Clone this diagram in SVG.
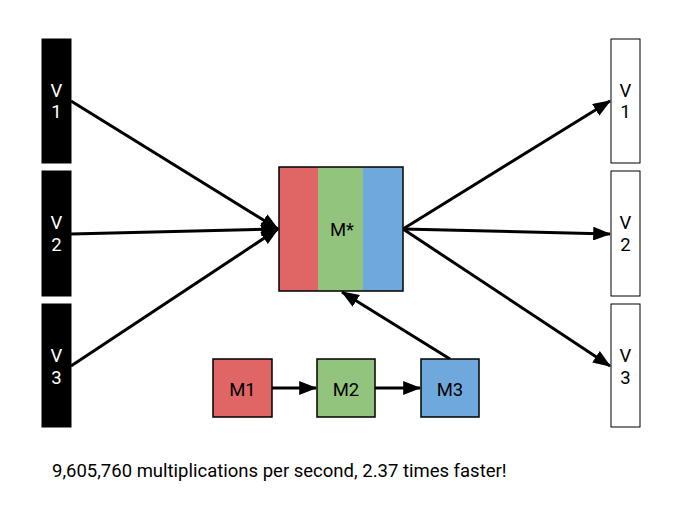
<svg xmlns="http://www.w3.org/2000/svg" width="693" height="518" viewBox="0 0 693 518">
<style>
text{font-family:Roboto,"Liberation Sans",sans-serif;font-size:18.5px;text-anchor:middle}
.lbl{fill:#000}
.wl{fill:#fff}
.vin{fill:#000;stroke:#000;stroke-width:1}
.vout{fill:#fff;stroke:#000;stroke-width:1}
.m{stroke:#000;stroke-width:1.5}
.c{stroke:#000;stroke-width:3;fill:none;marker-end:url(#ah)}
</style>
<defs>
<marker id="ah" markerWidth="6" markerHeight="4.6" refX="5.6" refY="2.3" orient="auto" markerUnits="strokeWidth">
<path d="M0,0 L6,2.3 L0,4.6 Z" fill="#000"/>
</marker>
</defs>
<rect width="693" height="518" fill="#fff"/>
<g id="connectors">
<line class="c" x1="71" y1="101" x2="278" y2="229"/>
<line class="c" x1="71" y1="234" x2="278" y2="229"/>
<line class="c" x1="71" y1="366" x2="278" y2="229"/>
<line class="c" x1="403" y1="229" x2="610" y2="101"/>
<line class="c" x1="403" y1="229" x2="610" y2="234"/>
<line class="c" x1="403" y1="229" x2="610" y2="366"/>
<line class="c" x1="450" y1="359" x2="342" y2="292"/>
<line class="c" x1="272" y1="388" x2="316" y2="388"/>
<line class="c" x1="375" y1="388" x2="420" y2="388"/>
</g>
<g id="vin1"><rect class="vin" x="42" y="39" width="29" height="124"/><text class="wl" x="56.5" y="97">V</text><text class="wl" x="56.5" y="118">1</text></g>
<g id="vin2"><rect class="vin" x="42" y="171" width="29" height="125"/><text class="wl" x="56.5" y="229">V</text><text class="wl" x="56.5" y="251">2</text></g>
<g id="vin3"><rect class="vin" x="42" y="304" width="29" height="123"/><text class="wl" x="56.5" y="362">V</text><text class="wl" x="56.5" y="384">3</text></g>
<g id="mstar">
<rect x="279" y="167" width="39" height="124" fill="#e06666"/>
<rect x="318" y="167" width="45" height="124" fill="#93c47d"/>
<rect x="363" y="167" width="40" height="124" fill="#6fa8dc"/>
<rect x="279" y="167" width="124" height="124" fill="none" stroke="#000" stroke-width="1.5"/>
<text class="lbl" x="342" y="236">M*</text>
</g>
<g id="m1"><rect class="m" x="213" y="359" width="59" height="58" fill="#e06666"/><text class="lbl" x="242.5" y="396">M1</text></g>
<g id="m2"><rect class="m" x="317" y="359" width="58" height="58" fill="#93c47d"/><text class="lbl" x="346" y="396">M2</text></g>
<g id="m3"><rect class="m" x="421" y="359" width="58" height="58" fill="#6fa8dc"/><text class="lbl" x="450" y="396">M3</text></g>
<g id="vout1"><rect class="vout" x="611" y="39" width="29" height="124"/><text class="lbl" x="625.5" y="97">V</text><text class="lbl" x="625.5" y="118">1</text></g>
<g id="vout2"><rect class="vout" x="611" y="171" width="29" height="125"/><text class="lbl" x="625.5" y="229">V</text><text class="lbl" x="625.5" y="251">2</text></g>
<g id="vout3"><rect class="vout" x="611" y="304" width="29" height="123"/><text class="lbl" x="625.5" y="362">V</text><text class="lbl" x="625.5" y="384">3</text></g>
<text class="lbl" x="52" y="477" style="text-anchor:start">9,605,760 multiplications per second, 2.37 times faster!</text>
</svg>
